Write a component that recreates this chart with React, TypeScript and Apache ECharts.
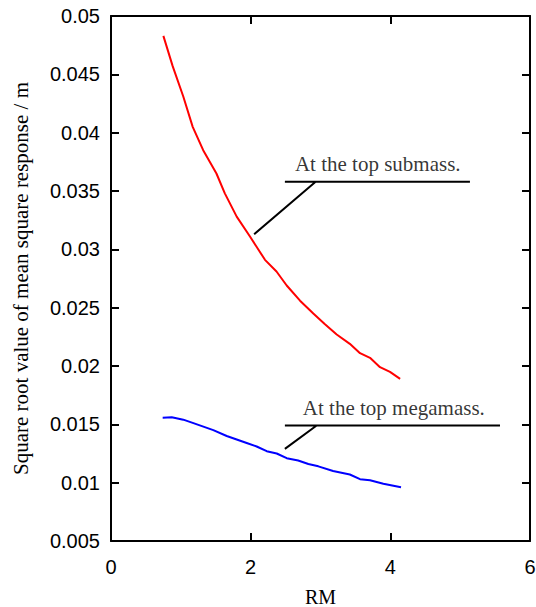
import React, { useEffect, useRef } from "react";
import * as echarts from "echarts";

const xTicks = { min: 0, max: 6, interval: 2 };
const yTicks = { min: 0.005, max: 0.05, interval: 0.005 };

const submass: [number, number][] = [
  [0.75, 0.0483], [0.883, 0.0457], [1.035, 0.0431], [1.17, 0.0405], [1.32, 0.0385],
  [1.51, 0.0365], [1.63, 0.0348], [1.8, 0.0328], [1.99, 0.0311], [2.205, 0.0291],
  [2.37, 0.0281], [2.516, 0.0269], [2.707, 0.0256], [2.897, 0.0245], [3.06, 0.0236],
  [3.232, 0.0227], [3.42, 0.0219], [3.566, 0.0211], [3.709, 0.0207], [3.852, 0.0199],
  [3.995, 0.0195], [4.14, 0.0189],
];

const megamass: [number, number][] = [
  [0.74, 0.01557], [0.87, 0.0156], [1.035, 0.0154], [1.18, 0.0151], [1.465, 0.0145],
  [1.657, 0.014], [1.8, 0.0137], [1.943, 0.0134], [2.086, 0.0131], [2.23, 0.0127],
  [2.373, 0.0125], [2.516, 0.0121], [2.68, 0.0119], [2.826, 0.0116], [2.969, 0.0114],
  [3.18, 0.011], [3.42, 0.0107], [3.566, 0.0103], [3.709, 0.0102], [3.9, 0.0099],
  [4.153, 0.0096],
];

const submassLeader: [number, number][] = [[2.05, 0.0313], [2.93, 0.0358], [2.49, 0.0358], [5.14, 0.0358]];
const megamassLeader: [number, number][] = [[2.49, 0.0129], [2.945, 0.0149], [2.49, 0.0149], [5.57, 0.0149]];

const labels = [
  { text: "At the top submass.", pos: [3.82, 0.0373] },
  { text: "At the top megamass.", pos: [4.05, 0.01637] },
];

const xTitle = "RM";
const yTitle = "Square root value of mean square response / m";

export default function App() {
  const ref = useRef<HTMLDivElement>(null);
  useEffect(() => {
    if (!ref.current) return;
    const chart = echarts.init(ref.current, null, { renderer: "svg" });
    const axisLine = { show: true, onZero: false, lineStyle: { color: "#000", width: 2 } };
    const axisTick = { show: true, inside: true, length: 8, lineStyle: { color: "#000", width: 2 } };
    const tickFont = { color: "#000", fontFamily: "Liberation Sans", fontSize: 20 };
    chart.setOption({
      animation: false,
      grid: { left: 111, right: 6, top: 16, bottom: 66, containLabel: false, outerBoundsMode: "none" },
      xAxis: [
        {
          type: "value", ...xTicks, position: "bottom",
          axisLine, axisTick, splitLine: { show: false },
          axisLabel: { ...tickFont, margin: 16 },
          name: xTitle, nameLocation: "middle", nameGap: 46,
          nameTextStyle: { color: "#000", fontFamily: "Liberation Serif", fontSize: 20 },
        },
        {
          type: "value", ...xTicks, position: "top",
          axisLine, axisTick, splitLine: { show: false }, axisLabel: { show: false },
        },
      ],
      yAxis: [
        {
          type: "value", ...yTicks, position: "left",
          axisLine, axisTick, splitLine: { show: false },
          axisLabel: { ...tickFont, margin: 11 },
          name: yTitle, nameLocation: "middle", nameGap: 80, nameRotate: 90,
          nameTextStyle: { color: "#000", fontFamily: "Liberation Serif", fontSize: 21 },
        },
        {
          type: "value", ...yTicks, position: "right",
          axisLine, axisTick, splitLine: { show: false }, axisLabel: { show: false },
        },
      ],
      series: [
        {
          type: "line", data: submass, showSymbol: false, symbol: "none",
          lineStyle: { color: "#ff0000", width: 2 }, z: 3,
        },
        {
          type: "line", data: megamass, showSymbol: false, symbol: "none",
          lineStyle: { color: "#0000ff", width: 2 }, z: 3,
        },
        {
          type: "line", data: submassLeader, symbol: "none",
          lineStyle: { color: "#000", width: 2 },
        },
        {
          type: "line", data: megamassLeader, symbol: "none",
          lineStyle: { color: "#000", width: 2 },
        },
        {
          type: "scatter",
          data: labels.map((l) => ({ value: l.pos, name: l.text })),
          symbolSize: 1,
          itemStyle: { color: "rgba(0,0,0,0)" },
          label: {
            show: true, position: "inside", formatter: (p: any) => p.name,
            color: "#000", fontFamily: "Liberation Serif", fontSize: 21,
          },
        },
      ],
    });
    return () => chart.dispose();
  }, []);
  return (
    <div
      ref={ref}
      style={{ position: "fixed", left: 0, top: 0, width: 536, height: 607, background: "#fff" }}
    />
  );
}
